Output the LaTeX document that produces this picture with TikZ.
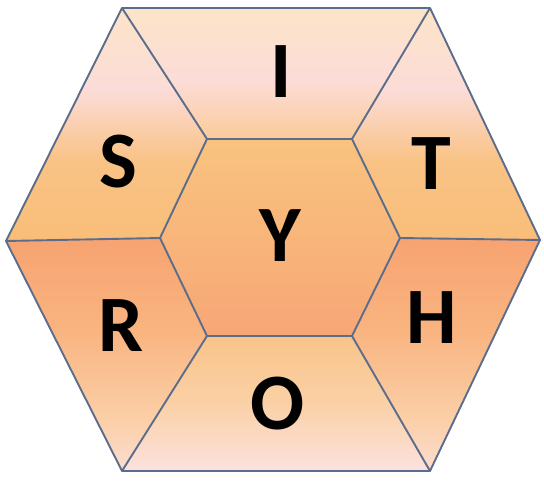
\documentclass[tikz,border=0pt]{standalone}
\usepackage{fontspec}
\setmainfont{Carlito}
\definecolor{peach}{HTML}{FCE4C8}
\definecolor{pinkl}{HTML}{FCDCD8}
\definecolor{orgA}{HTML}{F9C386}
\definecolor{orgB}{HTML}{F9BD78}
\definecolor{iBot}{HTML}{FACB98}
\definecolor{yTop}{HTML}{F9C37F}
\definecolor{yMid}{HTML}{F8B57A}
\definecolor{yBot}{HTML}{F7A676}
\definecolor{salA}{HTML}{F7A371}
\definecolor{salB}{HTML}{F9B480}
\definecolor{salC}{HTML}{FBCFA8}
\definecolor{salD}{HTML}{FCDDD2}
\definecolor{oTop}{HTML}{F9C38A}
\definecolor{oMid}{HTML}{FAD0A4}
\definecolor{oBot}{HTML}{FCE1DF}
\definecolor{edge}{HTML}{5B6D8A}
\newcommand{\band}[4]{\shade[top color=#3,bottom color=#4] (0,-#1) rectangle (544,-#2);}
\begin{document}
\begin{tikzpicture}[x=1pt,y=1pt,
  letter/.style={font=\fontsize{80}{80}\selectfont\bfseries, inner sep=0pt, text=black},
  edgeline/.style={draw=edge, line width=1.9pt, line join=round}]
\useasboundingbox (0,0) rectangle (544,-481);
% outer vertices
\coordinate (o1) at (122,-8);
\coordinate (o2) at (430,-8);
\coordinate (o3) at (540,-240);
\coordinate (o4) at (430,-471);
\coordinate (o5) at (122,-471);
\coordinate (o6) at (6,-241);
% inner vertices
\coordinate (i1) at (207,-139);
\coordinate (i2) at (352,-139);
\coordinate (i3) at (400,-238);
\coordinate (i4) at (352,-336);
\coordinate (i5) at (207,-336);
\coordinate (i6) at (160,-238);
% I piece
\begin{scope}
\clip (o1) -- (o2) -- (i2) -- (i1) -- cycle;
\band{8}{80}{peach}{pinkl}
\band{80}{140}{pinkl}{iBot}
\end{scope}
% S piece
\begin{scope}
\clip (o6) -- (o1) -- (i1) -- (i6) -- cycle;
\band{8}{90}{peach}{pinkl}
\band{90}{160}{pinkl}{orgA}
\band{160}{242}{orgA}{orgB}
\end{scope}
% T piece
\begin{scope}
\clip (o2) -- (o3) -- (i3) -- (i2) -- cycle;
\band{8}{90}{peach}{pinkl}
\band{90}{160}{pinkl}{orgA}
\band{160}{242}{orgA}{orgB}
\end{scope}
% Y piece
\begin{scope}
\clip (i1) -- (i2) -- (i3) -- (i4) -- (i5) -- (i6) -- cycle;
\band{138}{240}{yTop}{yMid}
\band{240}{338}{yMid}{yBot}
\end{scope}
% R piece
\begin{scope}
\clip (o6) -- (i6) -- (i5) -- (o5) -- cycle;
\band{238}{330}{salA}{salB}
\band{330}{420}{salB}{salC}
\band{420}{472}{salC}{salD}
\end{scope}
% H piece
\begin{scope}
\clip (o3) -- (o4) -- (i4) -- (i3) -- cycle;
\band{238}{330}{salA}{salB}
\band{330}{420}{salB}{salC}
\band{420}{472}{salC}{salD}
\end{scope}
% O piece
\begin{scope}
\clip (i5) -- (i4) -- (o4) -- (o5) -- cycle;
\band{335}{400}{oTop}{oMid}
\band{400}{472}{oMid}{oBot}
\end{scope}
% edges
\draw[edgeline] (o1) -- (o2) -- (o3) -- (o4) -- (o5) -- (o6) -- cycle;
\draw[edgeline] (i1) -- (i2) -- (i3) -- (i4) -- (i5) -- (i6) -- cycle;
\draw[edgeline] (o1) -- (i1);
\draw[edgeline] (o2) -- (i2);
\draw[edgeline] (o3) -- (i3);
\draw[edgeline] (o4) -- (i4);
\draw[edgeline] (o5) -- (i5);
\draw[edgeline] (o6) -- (i6);
% letters
\node[letter] (lI) at (281,-72) {I};
\node[letter] (lS) at (118,-162) {S};
\node[letter] (lT) at (431,-164) {T};
\node[letter] (lY) at (280,-236) {Y};
\node[letter] (lR) at (121,-326) {R};
\node[letter] (lH) at (432,-318) {H};
\node[letter] (lO) at (278,-404) {O};
\end{tikzpicture}
\end{document}
